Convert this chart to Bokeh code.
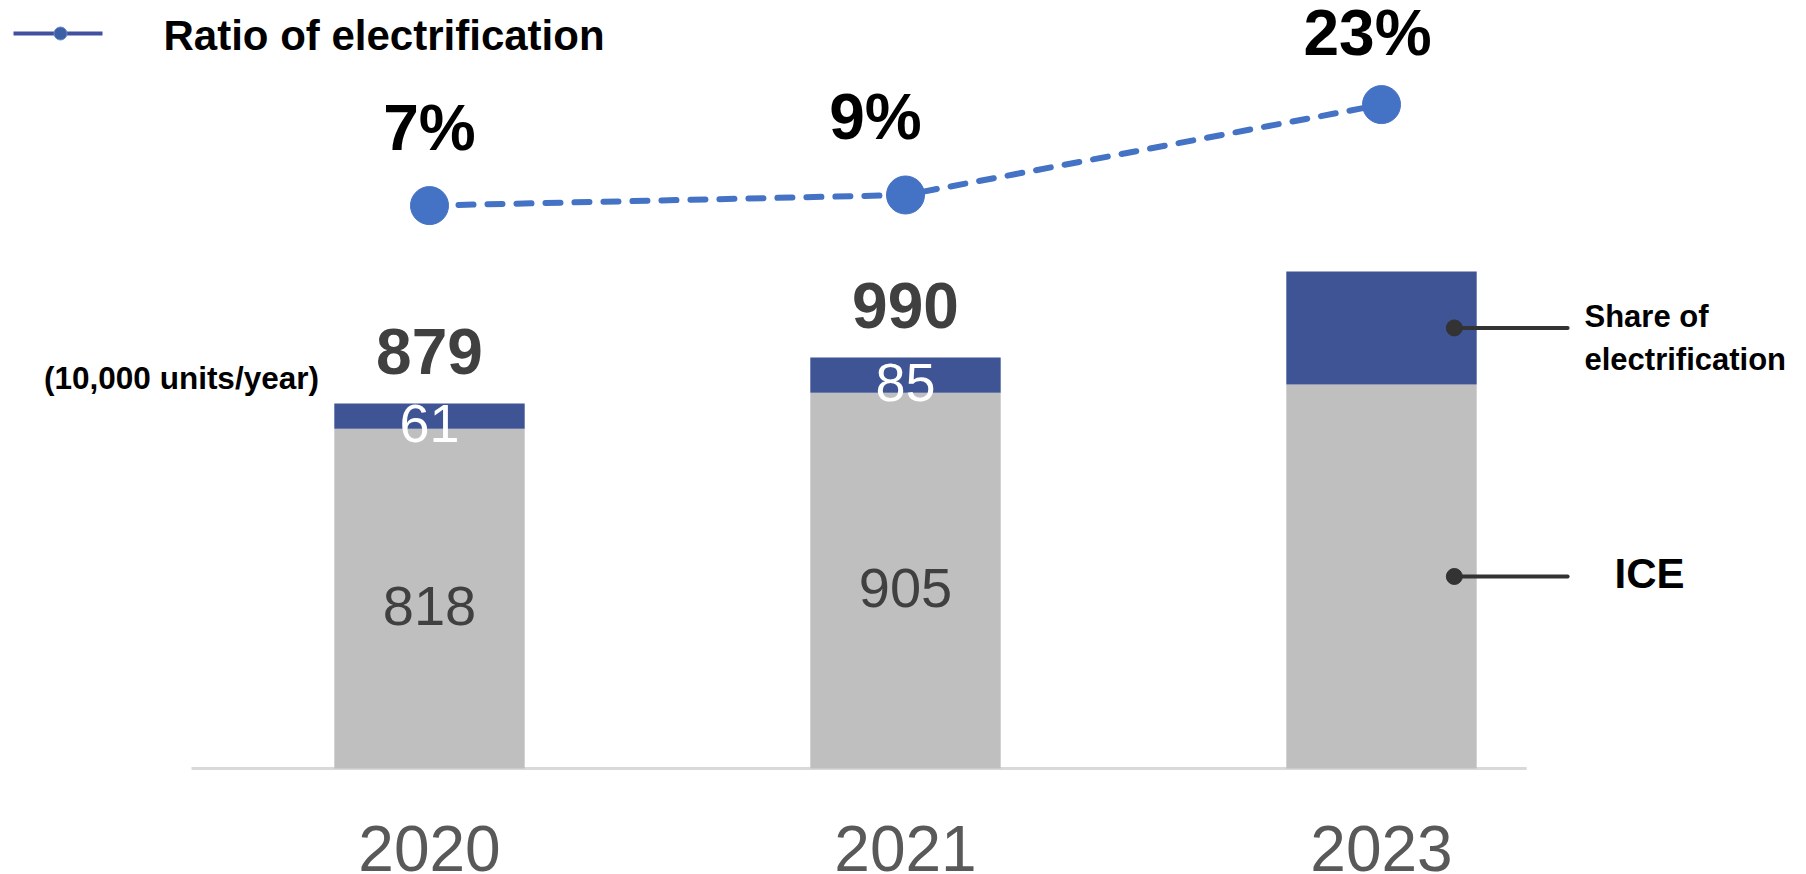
from bokeh.plotting import figure
from bokeh.models import Range1d, ColumnDataSource
from bokeh.core.properties import value
from bokeh.embed import file_html
from bokeh.resources import INLINE

# ---------------- data ----------------
years = ["2020", "2021", "2023"]
ice = [818, 905, 925]
ev = [61, 85, 272]
ratio = [6.9, 8.6, 23.1]
ratio_labels = ["7%", "9%", "23%"]
total_labels = ["879", "990"]
ev_labels = ["61", "85"]
ice_labels = ["818", "905"]
unit_label = "(10,000 units/year)"
legend_label = "Ratio of electrification"
callout_labels = ["Share of\nelectrification", "ICE"]

# ---------------- layout / style constants ----------------
W, H = 1806, 874
BASE = 768           # page y of the baseline
X0, DX = 429, 476    # page x of first category, category spacing
PPU = 0.4152         # px per unit (bars)
FONT = value("Liberation Sans")
PCT_DX = [0, -30, -14]     # label nudges (px)
PCT_DY = [-78, -78, -72]

def sx(px):
    return (px - X0) / DX

def sy(py):
    return (BASE - py) / PPU

xs = list(range(len(years)))
totals = [a + b for a, b in zip(ice, ev)]

p = figure(width=W, height=H, output_backend="svg", toolbar_location=None,
           x_range=Range1d(sx(0), sx(W)), y_range=Range1d(sy(H), sy(0)),
           x_axis_type=None, y_axis_type=None,
           min_border=0, min_border_left=0, min_border_right=0,
           min_border_top=0, min_border_bottom=0)
p.extra_y_ranges = {"pct": Range1d(-100.4, 39.8)}
p.outline_line_color = None
p.background_fill_color = "white"
p.border_fill_color = "white"
p.xgrid.visible = False
p.ygrid.visible = False

# baseline
p.segment(x0=[xs[0] - 0.5], y0=[0], x1=[xs[-1] + 0.305], y1=[0],
          line_color="#D9D9D9", line_width=3)

# stacked bars
src = ColumnDataSource(dict(x=xs, ice=ice, ev=ev))
p.vbar_stack(["ice", "ev"], x="x", width=0.4, source=src,
             fill_color=["#BFBFBF", "#3E5494"], line_color=None)

# segment labels
p.text(x=xs[:2], y=[v / 2 for v in ice[:2]], text=ice_labels, y_offset=7,
       text_font=FONT, text_font_size="56px", text_color="#404040",
       text_align="center", text_baseline="middle")
p.text(x=xs[:2], y=[i + e / 2 for i, e in zip(ice[:2], ev[:2])], text=ev_labels,
       y_offset=7, text_font=FONT, text_font_size="54px", text_color="white",
       text_align="center", text_baseline="middle")
p.text(x=xs[:2], y=totals[:2], text=total_labels, y_offset=-52,
       text_font=FONT, text_font_size="64px", text_font_style="bold",
       text_color="#404040", text_align="center", text_baseline="middle")

# ratio line
p.line(xs, ratio, y_range_name="pct", line_color="#4472C4", line_width=6,
       line_dash="15 14", line_cap="round")
p.scatter(xs, ratio, y_range_name="pct", size=38, fill_color="#4472C4",
          line_color="#4472C4")
pct_src = ColumnDataSource(dict(x=xs, y=ratio, t=ratio_labels, dx=PCT_DX, dy=PCT_DY))
p.text(x="x", y="y", text="t", x_offset="dx", y_offset="dy", source=pct_src,
       y_range_name="pct", text_font=FONT, text_font_size="64px",
       text_font_style="bold", text_color="black",
       text_align="center", text_baseline="middle")

# year labels
p.text(x=xs, y=[sy(848)] * len(xs), text=years, text_font=FONT,
       text_font_size="64px", text_color="#595959",
       text_align="center", text_baseline="middle")

# unit label
p.text(x=[sx(181)], y=[sy(377)], text=[unit_label], text_font=FONT,
       text_font_size="31.5px", text_font_style="bold", text_color="black",
       text_align="center", text_baseline="middle")

# callouts for the 2023 bar
cy = [ice[2] + ev[2] / 2, ice[2] / 2]
cx = xs[2]
p.segment(x0=[cx + 0.153] * 2, y0=cy, x1=[cx + 0.391] * 2, y1=cy,
          line_color="#333333", line_width=4, line_cap="round")
p.scatter([cx + 0.153] * 2, cy, size=16, fill_color="#333333", line_color="#333333")
p.text(x=[sx(1584)], y=[cy[0]], text=[callout_labels[0]], y_offset=10,
       text_font=FONT, text_font_size="31px", text_font_style="bold",
       text_color="black", text_align="left", text_baseline="middle",
       text_line_height=1.25)
p.text(x=[sx(1649)], y=[cy[1]], text=[callout_labels[1]], y_offset=-3,
       text_font=FONT, text_font_size="42px", text_font_style="bold",
       text_color="black", text_align="center", text_baseline="middle")

# legend (manual)
p.segment(x0=[sx(13)], y0=[sy(33)], x1=[sx(102)], y1=[sy(33)],
          line_color="#4150A0", line_width=4)
p.scatter([sx(60)], [sy(33)], size=13, fill_color="#3D5FA5", line_color="#6A8CC8",
          line_width=1)
p.text(x=[sx(163)], y=[sy(35)], text=[legend_label], text_font=FONT,
       text_font_size="42px", text_font_style="bold", text_color="black",
       text_align="left", text_baseline="middle")

open("out.html", "w").write(file_html(p, INLINE))
